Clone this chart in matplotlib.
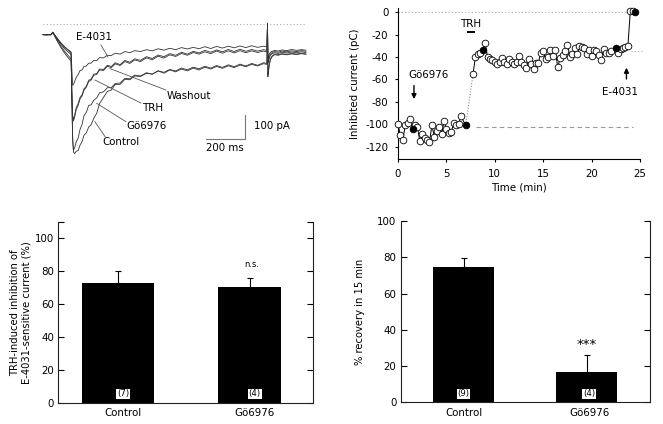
import matplotlib
matplotlib.use("Agg")
import matplotlib.pyplot as plt
from matplotlib.ticker import FixedLocator

plt.rcParams["font.family"] = ["DejaVu Sans"]
plt.rcParams["font.size"] = 7.2
plt.rcParams["axes.unicode_minus"] = False

# ---------------- data: current traces (ms, pA) ----------------
trace_time_ms = [-10, 0, 10, 20, 30, 40, 60, 80, 100, 120, 134, 138, 142, 146, 152, 160, 170, 180,
                 190, 200, 212, 224, 236, 250, 265, 280, 300, 320, 340, 360, 385, 410, 435, 460,
                 490, 520, 550, 580, 610, 640, 670, 700, 730, 760, 790, 820, 850, 880, 910, 940,
                 970, 1000, 1030, 1060, 1090, 1120, 1138, 1141, 1143, 1146, 1150, 1156, 1165,
                 1178, 1195, 1215, 1240, 1265, 1290, 1315, 1338]

trace_e4031 = [-44, -46, -43, -45, -44, -35, -58, -80, -98, -110, -119,
               -200, -262, -258,
               -246, -228, -216, -198, -196, -181, -179, -167, -167, -155, -156, -143, -144,
               -133, -134, -124, -128, -117, -122, -113, -117, -109, -114, -105, -111, -103,
               -109, -100, -106, -99, -105, -96, -104, -95, -102, -94, -101, -93, -100, -92,
               -99, -94, -96,
               2, -150, -140, -128, -120, -116, -112, -115, -110, -113, -108, -112, -109, -111]

trace_trh = [-45, -44, -46, -43, -45, -36, -65, -92, -115, -135, -150,
             -300, -395, -415,
             -398, -366, -348, -320, -308, -283, -270, -246, -240, -219, -215, -196, -198,
             -180, -186, -170, -177, -160, -168, -153, -160, -144, -152, -137, -145, -131,
             -138, -125, -133, -121, -128, -118, -126, -115, -124, -114, -123, -113, -122,
             -114, -121, -115, -119,
             0, -165, -160, -145, -132, -126, -122, -125, -120, -123, -119, -122, -118, -121]

trace_washout = [-44, -45, -44, -46, -44, -34, -68, -98, -123, -145, -158,
                 -310, -400, -405,
                 -390, -358, -340, -313, -302, -277, -266, -240, -236, -214, -212, -192, -194,
                 -176, -181, -165, -173, -155, -163, -148, -155, -139, -147, -132, -139, -126,
                 -133, -120, -128, -116, -123, -112, -120, -110, -118, -108, -117, -107, -116,
                 -108, -115, -109, -112,
                 3, -160, -152, -140, -128, -121, -117, -120, -115, -118, -114, -117, -113, -116]

trace_go6976 = [-45, -44, -45, -44, -46, -35, -60, -84, -104, -120, -130,
                -330, -490, -540,
                -530, -505, -488, -450, -430, -392, -378, -348, -346, -326, -316, -294, -290,
                -272, -272, -254, -252, -232, -234, -218, -222, -208, -214, -200, -210, -196,
                -204, -192, -200, -188, -196, -184, -192, -181, -189, -178, -186, -175, -182,
                -172, -179, -169, -172,
                4, -215, -198, -170, -148, -136, -128, -131, -126, -129, -125, -128, -124, -127]

trace_control = [-44, -45, -46, -44, -45, -34, -57, -78, -96, -112, -125,
                 -350, -500, -548,
                 -555, -545, -542, -518, -504, -476, -466, -441, -432, -404, -382, -340, -314,
                 -288, -282, -258, -258, -236, -238, -222, -224, -210, -214, -200, -206, -194,
                 -200, -188, -195, -184, -191, -180, -188, -177, -185, -174, -182, -171, -179,
                 -168, -176, -165, -168,
                 5, -225, -205, -175, -152, -138, -130, -133, -128, -131, -127, -130, -126, -129]

# ---------------- data: time course (min, pC) ----------------
tc_time = [0.0, 0.25, 0.5, 0.75, 1.0, 1.25, 1.5, 1.75, 2.0, 2.25, 2.5, 2.75, 3.0, 3.25, 3.5,
           3.75, 4.0, 4.25, 4.5, 4.75, 5.0, 5.25, 5.5, 5.75, 6.0, 6.25, 6.5, 7.0,
           7.75, 8.0, 8.25, 8.5, 8.75, 9.0, 9.25, 9.5, 9.75, 10.0, 10.25, 10.5, 10.75, 11.0,
           11.25, 11.5, 11.75, 12.0, 12.25, 12.5, 12.75, 13.0, 13.25, 13.5, 13.75, 14.0, 14.25,
           14.5, 14.75, 15.0, 15.25, 15.5, 15.75, 16.0, 16.25, 16.5, 16.75, 17.0, 17.25, 17.5,
           17.75, 18.0, 18.25, 18.5, 18.75, 19.0, 19.25, 19.5, 19.75, 20.0, 20.25, 20.5, 20.75,
           21.0, 21.25, 21.5, 21.75, 22.0, 22.5, 22.75, 23.0, 23.25, 23.5, 23.75, 24.0, 24.25,
           24.45]
tc_current = [-100, -110, -114, -101, -99, -95, -104, -101, -102, -115, -109, -112, -114, -116,
              -101, -111, -106, -102, -109, -97, -104, -108, -107, -99, -101, -100, -93, -101,
              -55, -40, -37, -36, -34, -27, -40, -42, -43, -44, -46, -44, -41, -44, -46, -42,
              -44, -46, -44, -39, -44, -47, -50, -42, -46, -51, -45, -45, -36, -35, -42, -40,
              -34, -39, -34, -49, -41, -38, -35, -29, -40, -37, -32, -37, -30, -31, -32, -37,
              -34, -39, -34, -35, -38, -43, -33, -36, -36, -35, -32, -36, -33, -32, -31, -30,
              1, 1, 0]
tc_filled = [0] * 6 + [1] + [0] * 20 + [1] + [0] * 4 + [1] + [0] * 53 + [1] + [0] * 7 + [1]

# ---------------- data: bar charts ----------------
bar_groups = ["Control", "Gö6976"]
inhib_mean = [73.0, 70.5]
inhib_err = [7.0, 5.2]
inhib_n = ["(7)", "(4)"]
recov_mean = [74.5, 16.5]
recov_err = [5.3, 9.6]
recov_n = ["(9)", "(4)"]

W, H = 663, 424
fig = plt.figure(figsize=(W / 100, H / 100), dpi=100)


def rect(l, t, r, b):
    return [l / W, 1 - b / H, (r - l) / W, (b - t) / H]


# ================= panel A: traces =================
ax = fig.add_axes(rect(30, 5, 330, 170))
ax.set_axis_off()
ax.set_xlim(-76.9, 1461.5)
ax.set_ylim(-625.3, 82.8)
ax.plot([-10, 1333], [0, 0], color="#aaaaaa", lw=0.8, ls=(0, (1, 2)))
for tr in (trace_control, trace_go6976, trace_washout, trace_trh, trace_e4031):
    ax.plot(trace_time_ms, tr, color="#333333", lw=0.6)

leaders = [
    ("E-4031", (157, -53), (287, -89), (323, -140)),
    ("Washout", (624, -306), (620, -282), (333, -190)),
    ("TRH", (497, -361), (492, -338), (256, -239)),
    ("Gö6976", (419, -436), (415, -418), (265, -339)),
    ("Control", (296, -505), (308, -482), (256, -418)),
]
for txt, tpos, p1, p2 in leaders:
    ax.text(tpos[0], tpos[1], txt, ha="left", va="center", fontsize=7.4)
    ax.plot([p1[0], p2[0]], [p1[1], p2[1]], color="#555555", lw=0.6)

ax.plot([825.6, 1025.6, 1025.6], [-491, -491, -391], color="#777777", lw=0.8)
ax.text(1072, -436, "100 pA", ha="left", va="center", fontsize=7.4)
ax.text(923, -533, "200 ms", ha="center", va="center", fontsize=7.4)

# ================= panel B: time course =================
bx = fig.add_axes(rect(398, 7.8, 640, 159))
bx.set_xlim(0, 25)
bx.set_ylim(-131, 4)
for s in ("top", "right"):
    bx.spines[s].set_visible(False)
for s in ("left", "bottom"):
    bx.spines[s].set_linewidth(0.8)
bx.plot([0, 24], [0, 0], color="#aaaaaa", lw=0.8, ls=(0, (1, 2)), zorder=1)
bx.plot([8.1, 24.3], [-102, -102], color="#999999", lw=0.8, ls=(0, (4, 3)), zorder=1)
bx.plot([24.1, 25.3], [-35, -35], color="#aaaaaa", lw=0.8, ls=(0, (1, 2)), zorder=1, clip_on=False)

bx.plot(tc_time[:28], tc_current[:28], color="black", lw=0.7, zorder=2)
bx.plot(tc_time[27:29], tc_current[27:29], color="#888888", lw=0.8, ls=(0, (1, 1.5)), zorder=2)
bx.plot(tc_time[28:], tc_current[28:], color="black", lw=0.7, zorder=2)
open_t = [t for t, f in zip(tc_time, tc_filled) if not f]
open_c = [c for c, f in zip(tc_current, tc_filled) if not f]
fill_t = [t for t, f in zip(tc_time, tc_filled) if f]
fill_c = [c for c, f in zip(tc_current, tc_filled) if f]
bx.plot(open_t, open_c, "o", ms=4.8, mfc="white", mec="black", mew=0.6, zorder=3, clip_on=False)
bx.plot(fill_t, fill_c, "o", ms=4.8, mfc="black", mec="black", mew=0.6, zorder=4, clip_on=False)

bx.set_xticks([0, 5, 10, 15, 20, 25])
bx.set_yticks([0, -20, -40, -60, -80, -100, -120])
bx.tick_params(direction="out", length=2.5, width=0.8, pad=4.5, labelsize=7.4)
bx.set_xlabel("Time (min)", fontsize=7.4)
bx.set_ylabel("Inhibited current (pC)", fontsize=7.4)
bx.xaxis.set_label_coords(0.5, -0.155)
bx.yaxis.set_label_coords(-0.157, 0.5)

bx.plot([7.2, 7.8], [-18, -18], color="black", lw=1.4)
bx.text(7.5, -10.7, "TRH", ha="center", va="center", fontsize=7.4)
bx.annotate("", xy=(1.65, -80), xytext=(1.65, -63),
            arrowprops=dict(arrowstyle="-|>", color="black", lw=1.0, mutation_scale=7))
bx.text(3.1, -56, "Gö6976", ha="center", va="center", fontsize=7.4)
bx.annotate("", xy=(23.6, -47), xytext=(23.6, -62),
            arrowprops=dict(arrowstyle="-|>", color="black", lw=1.0, mutation_scale=7))
bx.text(22.9, -71, "E-4031", ha="center", va="center", fontsize=7.4)


# ================= panels C, D: bars =================
def bar_panel(r, xlim, ylim, widths, shift, mean, err, ns, count_y, ylabel, ylab_x):
    a = fig.add_axes(r)
    a.set_xlim(*xlim)
    a.set_ylim(*ylim)
    xs = list(range(len(bar_groups)))
    a.bar(xs, mean, width=widths, color="black", zorder=2)
    a.errorbar(xs, mean, yerr=[[0] * len(err), err], fmt="none", ecolor="black",
               elinewidth=0.8, capsize=2.5, capthick=0.8, zorder=3)
    a.spines["top"].set_visible(False)
    for s in ("left", "right", "bottom"):
        a.spines[s].set_linewidth(0.8)
        a.spines[s].set_color("#222222")
    a.set_xticks([x + s for x, s in zip(xs, shift)])
    a.set_xticklabels(bar_groups)
    a.tick_params(axis="x", length=0, pad=4, labelsize=7.4)
    a.set_yticks([0, 20, 40, 60, 80, 100])
    a.tick_params(axis="y", which="both", direction="in", left=True, right=True,
                  length=4, width=0.8, pad=3, labelsize=7.4)
    a.yaxis.set_minor_locator(FixedLocator([ylim[1]]))
    for x, s, n in zip(xs, shift, ns):
        a.text(x + s, count_y, n, ha="center", va="center", fontsize=6.2, zorder=4,
               bbox=dict(facecolor="white", edgecolor="none", pad=0.6))
    a.set_ylabel(ylabel, fontsize=7.2, multialignment="center")
    a.yaxis.set_label_coords(ylab_x, 0.5)
    return a


cx = bar_panel(rect(58.3, 221.7, 313.3, 402.7), (-0.457, 1.484), (0, 110), [0.548, 0.477],
               [0.038, 0.038], inhib_mean, inhib_err, inhib_n, 5.3,
               "TRH-induced inhibition of\nE-4031-sensitive current (%)", -0.104)
cx.text(1.015, 82.4, "n.s.", ha="center", va="baseline", fontsize=6)

dx = bar_panel(rect(400.7, 221, 650, 402.3), (-0.51, 1.514), (0, 100), [0.5, 0.5],
               [0.0, 0.02], recov_mean, recov_err, recov_n, 4.6,
               "% recovery in 15 min", -0.143)
dx.text(1.0, 30, "***", ha="center", va="baseline", fontsize=9.5)

fig.savefig("out.png", dpi=100)
